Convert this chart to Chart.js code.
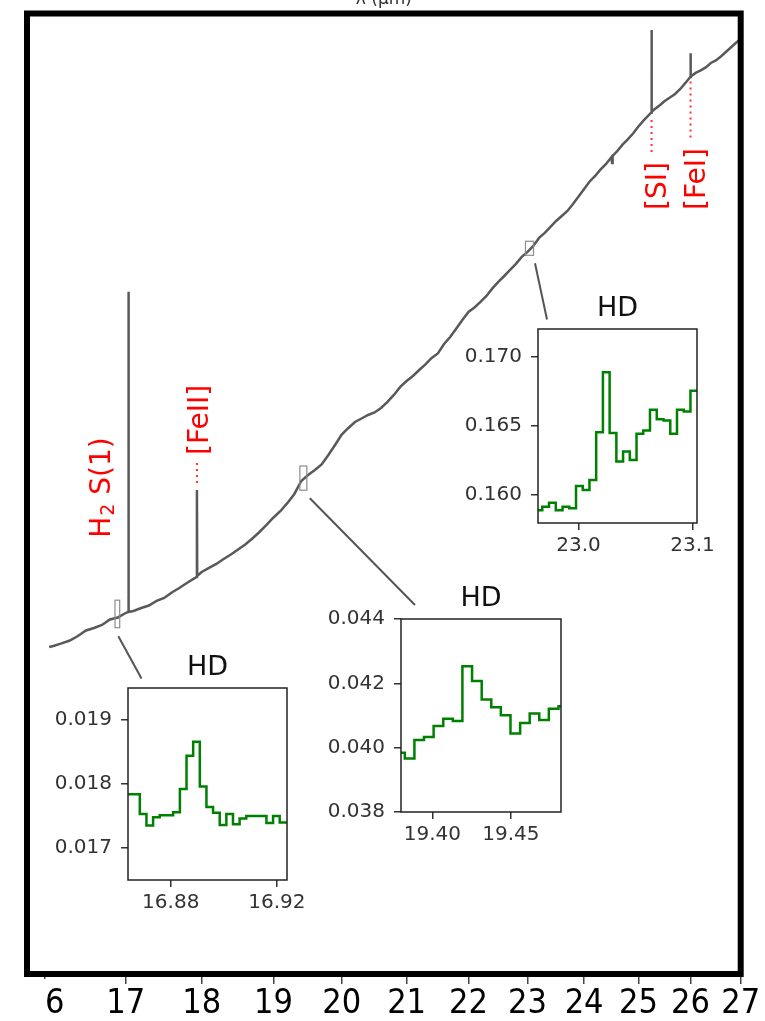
<!DOCTYPE html>
<html lang="en">
<head>
  <meta charset="UTF-8">
  <title>HD</title>
  <script src="https://cdn.jsdelivr.net/npm/chart.js"></script>
  <style>
    body { margin: 0; background: #fff; }
    #wrap { position: relative; width: 765px; height: 1021px; overflow: hidden; }
    #wrap canvas { position: absolute; }
  </style>
</head>
<body>
  <div id="wrap">
    <canvas id="mainChart" width="765" height="1021" style="left:0;top:0"></canvas>
    <canvas id="hd1"></canvas>
    <canvas id="hd2"></canvas>
    <canvas id="hd3"></canvas>
  </div>

<script>
  // full spectrum: wavelength (um) and flux
  const waves = [
    16.05, 16.1, 16.2, 16.3, 16.4, 16.5, 16.6, 16.7, 16.8, 16.9,
    17.0, 17.03, 17.035, 17.04, 17.1, 17.2, 17.3, 17.4, 17.5, 17.6, 17.7, 17.8, 17.9, 17.93, 17.936, 17.94,
    18.0, 18.1, 18.2, 18.3, 18.4, 18.5, 18.6, 18.7, 18.8, 18.9,
    19.0, 19.1, 19.2, 19.3, 19.4, 19.5, 19.6, 19.7, 19.8, 19.9,
    20.0, 20.1, 20.2, 20.3, 20.4, 20.5, 20.6, 20.7, 20.8, 20.9,
    21.0, 21.1, 21.2, 21.3, 21.4, 21.5, 21.6, 21.7, 21.8, 21.9,
    22.0, 22.1, 22.2, 22.3, 22.4, 22.5, 22.6, 22.7, 22.8, 22.9,
    23.0, 23.1, 23.2, 23.3, 23.4, 23.5, 23.6, 23.7, 23.8, 23.9,
    24.0, 24.1, 24.2, 24.3, 24.4, 24.5, 24.51, 24.52, 24.6, 24.7, 24.8, 24.9,
    25.0, 25.1, 25.2, 25.245, 25.249, 25.253, 25.3, 25.4, 25.5, 25.6, 25.7, 25.8, 25.9, 25.995,
    26.0, 26.005, 26.1, 26.2, 26.3, 26.4, 26.5, 26.6, 26.7, 26.8, 26.9, 27.0
  ];
  const flux = [
    0.01468, 0.01477, 0.01500, 0.01527, 0.01569, 0.01623, 0.01647, 0.01678, 0.01735, 0.01756,
    0.01804, 0.01815, 0.1267, 0.01815, 0.01826, 0.01860, 0.01888, 0.01941, 0.01976, 0.02043, 0.02100, 0.02165, 0.02225, 0.02245, 0.03804, 0.02258,
    0.02314, 0.02371, 0.02429, 0.02504, 0.02573, 0.02652, 0.02734, 0.02835, 0.02949, 0.03077,
    0.03220, 0.03350, 0.03517, 0.03714, 0.04018, 0.04167, 0.04296, 0.04441, 0.04705, 0.05000,
    0.05327, 0.05542, 0.05747, 0.05870, 0.05996, 0.06088, 0.06257, 0.06489, 0.06770, 0.07107,
    0.07370, 0.07597, 0.07878, 0.08146, 0.08473, 0.08708, 0.09224, 0.09625, 0.1013, 0.1067,
    0.1120, 0.1151, 0.1191, 0.1234, 0.1292, 0.1344, 0.1393, 0.1445, 0.1499, 0.1564,
    0.1612, 0.1672, 0.1755, 0.1809, 0.1876, 0.1945, 0.2005, 0.2067, 0.2157, 0.2257,
    0.2362, 0.2472, 0.2556, 0.2659, 0.2749, 0.2868, 0.2766, 0.2885, 0.2965, 0.3085, 0.3189, 0.3307,
    0.3451, 0.3579, 0.3700, 0.3757, 0.6196, 0.3768, 0.3826, 0.3920, 0.4028, 0.4114, 0.4203, 0.4332, 0.4493, 0.4659,
    0.5379, 0.4673, 0.4774, 0.4847, 0.4936, 0.5072, 0.5150, 0.5276, 0.5422, 0.5572, 0.5726, 0.5867
  ];
  const xTicks = [16, 17, 18, 19, 20, 21, 22, 23, 24, 25, 26, 27];

  // emission lines marked on the spectrum
  const lineNames = ['H2 S(1)', '[FeII]', '[SI]', '[FeI]'];
  const lineWaves = [17.035, 17.936, 25.249, 26.0];
  const lineLabelAt = [0.02847, 0.04705, 0.208, 0.208];
  const lineDots = [null, [0.04482, 0.03876], [0.3590, 0.2939], [0.4529, 0.3180]];
  const lineDx = [-18.4, 11.5, 14.8, 14.1];

  // HD zooms
  const hd1Waves = [16.8621, 16.8646, 16.8671, 16.8696, 16.8721, 16.8746, 16.8771, 16.8796, 16.8822, 16.8847,
    16.8872, 16.8897, 16.8922, 16.8947, 16.8972, 16.8997, 16.9022, 16.9047, 16.9072, 16.9097,
    16.9122, 16.9148, 16.9173, 16.9198, 16.9223, 16.9248];
  const hd1Flux = [0.01755, 0.01784, 0.01784, 0.01753, 0.01735, 0.01748, 0.01751, 0.01751, 0.01756, 0.01792,
    0.01844, 0.01866, 0.01796, 0.01764, 0.01755, 0.01736, 0.01753, 0.01737, 0.01746, 0.01750,
    0.01750, 0.01750, 0.01739, 0.01750, 0.01740, 0.01740];

  const hd2Waves = [19.3794, 19.3855, 19.3916, 19.3977, 19.4039, 19.4100, 19.4161, 19.4222, 19.4284,
    19.4345, 19.4406, 19.4467, 19.4529, 19.4590, 19.4651, 19.4712, 19.4773, 19.4835];
  const hd2Flux = [0.03984, 0.03966, 0.04024, 0.04033, 0.04067, 0.04090, 0.04083, 0.04253, 0.04207,
    0.04150, 0.04126, 0.04101, 0.04044, 0.04077, 0.04106, 0.04086, 0.04121, 0.04129];

  const hd3Waves = [22.9593, 22.9652, 22.9711, 22.9770, 22.9830, 22.9889, 22.9948, 23.0007, 23.0066, 23.0125,
    23.0184, 23.0243, 23.0302, 23.0361, 23.0420, 23.0479, 23.0538, 23.0597, 23.0656, 23.0716,
    23.0775, 23.0834, 23.0893, 23.0952, 23.1011, 23.1070];
  const hd3Flux = [0.15887, 0.15887, 0.15912, 0.15941, 0.15887, 0.15912, 0.15900, 0.16062, 0.16033, 0.16105,
    0.16452, 0.16885, 0.16445, 0.16239, 0.16311, 0.16251, 0.16440, 0.16464, 0.16614, 0.16546,
    0.16537, 0.16440, 0.16614, 0.16602, 0.16752, 0.16752];

  const insets = [
    { id: 'hd1', waves: hd1Waves, flux: hd1Flux, xRange: [16.8639, 16.9238], yRange: [0.0165, 0.0195],
      xTicks: [16.88, 16.92], yTicks: [0.017, 0.018, 0.019], xDec: 2, yDec: 3,
      frame: [128, 688, 159, 192], link: [1, 8.5, 13.5, -9.5] },
    { id: 'hd2', waves: hd2Waves, flux: hd2Flux, xRange: [19.38, 19.482], yRange: [0.038, 0.044],
      xTicks: [19.40, 19.45], yTicks: [0.038, 0.040, 0.042, 0.044], xDec: 2, yDec: 3,
      frame: [401, 619, 160, 193], link: [6.5, 8, 14, -14] },
    { id: 'hd3', waves: hd3Waves, flux: hd3Flux, xRange: [22.9644, 23.1039], yRange: [0.15794, 0.17199],
      xTicks: [23.0, 23.1], yTicks: [0.160, 0.165, 0.170], xDec: 1, yDec: 3,
      frame: [538, 329, 159, 194], link: [5.5, 8, 9, -9.5] }
  ];

  const sans = "'DejaVu Sans', sans-serif";

  function drawLineName(ctx, name, x, y) {
    ctx.save();
    ctx.translate(x, y);
    ctx.rotate(-Math.PI / 2);
    ctx.fillStyle = '#ff0000';
    ctx.textBaseline = 'alphabetic';
    ctx.textAlign = 'left';
    ctx.font = '28px ' + sans;
    if (name.startsWith('H2')) {
      ctx.fillText('H', 0, 0);
      let w = ctx.measureText('H').width;
      ctx.font = '19px ' + sans;
      ctx.fillText('2', w + 1, 4);
      w += ctx.measureText('2').width + 1;
      ctx.font = '28px ' + sans;
      ctx.fillText(name.slice(2), w, 0);
    } else {
      ctx.fillText(name, 0, 0);
    }
    ctx.restore();
  }

  const overlay = {
    id: 'overlay',
    afterDatasetsDraw(chart) {
      const ctx = chart.ctx;
      const xs = chart.scales.x, ys = chart.scales.y;
      ctx.save();
      // boxes around the zoomed regions and the lines going to each zoom
      insets.forEach(ins => {
        const x0 = xs.getPixelForValue(ins.xRange[0]);
        const x1 = xs.getPixelForValue(ins.xRange[1]);
        const y0 = ys.getPixelForValue(ins.yRange[1]);
        const y1 = ys.getPixelForValue(ins.yRange[0]);
        ctx.strokeStyle = '#8c8c8c';
        ctx.lineWidth = 1.2;
        ctx.strokeRect(x0, y0, x1 - x0, y1 - y0);
        const cx = (x0 + x1) / 2;
        ctx.strokeStyle = '#555';
        ctx.lineWidth = 2;
        ctx.beginPath();
        ctx.moveTo(cx + ins.link[0], y1 + ins.link[1]);
        ctx.lineTo(ins.frame[0] + ins.link[2], ins.frame[1] + ins.link[3]);
        ctx.stroke();
      });
      // line ids
      lineNames.forEach((name, i) => {
        const px = xs.getPixelForValue(lineWaves[i]);
        if (lineDots[i]) {
          ctx.strokeStyle = '#ff3030';
          ctx.lineWidth = 2;
          ctx.setLineDash([2, 4]);
          ctx.beginPath();
          ctx.moveTo(px, ys.getPixelForValue(lineDots[i][0]));
          ctx.lineTo(px, ys.getPixelForValue(lineDots[i][1]));
          ctx.stroke();
          ctx.setLineDash([]);
        }
        drawLineName(ctx, name, px + lineDx[i], ys.getPixelForValue(lineLabelAt[i]));
      });
      ctx.restore();
    },
    afterDraw(chart) {
      const ctx = chart.ctx;
      const a = chart.chartArea;
      ctx.save();
      ctx.strokeStyle = '#000';
      ctx.lineWidth = 6;
      ctx.strokeRect(a.left, a.top, a.right - a.left, a.bottom - a.top);
      // left end of the tick row is cut away
      ctx.fillStyle = '#fff';
      ctx.fillRect(0, 979, 47, 42);
      ctx.fillStyle = '#333';
      ctx.font = '17px ' + sans;
      ctx.textAlign = 'center';
      ctx.textBaseline = 'alphabetic';
      ctx.fillText('λ (μm)', (a.left + a.right) / 2, 4);
      ctx.restore();
    }
  };

  new Chart(document.getElementById('mainChart'), {
    type: 'line',
    data: {
      datasets: [{
        data: waves.map((w, i) => ({ x: w, y: flux[i] })),
        borderColor: '#595959',
        borderWidth: 2.5,
        pointRadius: 0,
        tension: 0,
        fill: false
      }]
    },
    options: {
      responsive: false,
      animation: false,
      events: [],
      layout: { padding: { left: 27, top: 13.5, right: 24.3, bottom: 0 } },
      scales: {
        x: {
          type: 'logarithmic',
          min: 15.784,
          max: 27.0,
          afterBuildTicks: s => { s.ticks = xTicks.map(v => ({ value: v })); },
          afterFit: s => { s.height = 47; },
          ticks: {
            callback: v => String(v),
            autoSkip: false,
            maxRotation: 0,
            minRotation: 0,
            padding: 0,
            color: '#000',
            font: { family: "'DejaVu Sans Condensed', 'DejaVu Sans'", size: 34 }
          },
          grid: { drawOnChartArea: false, tickLength: 10, color: '#444', lineWidth: 1.5 },
          border: { display: false }
        },
        y: {
          type: 'logarithmic',
          min: 0.0020199,
          max: 0.6846,
          display: false
        }
      },
      plugins: { legend: { display: false }, tooltip: { enabled: false } }
    },
    plugins: [overlay]
  });

  const insetFrame = {
    id: 'insetFrame',
    afterDraw(chart) {
      const ctx = chart.ctx;
      const a = chart.chartArea;
      ctx.save();
      ctx.strokeStyle = '#222';
      ctx.lineWidth = 1.5;
      ctx.strokeRect(a.left, a.top, a.right - a.left, a.bottom - a.top);
      ctx.fillStyle = '#111';
      ctx.font = '27px ' + sans;
      ctx.textAlign = 'center';
      ctx.textBaseline = 'alphabetic';
      ctx.fillText('HD', (a.left + a.right) / 2, a.top - 13);
      ctx.restore();
    }
  };

  function plotInset(ins) {
    const yW = 90, topPad = 45, rightPad = 30, xH = 45;
    const canvas = document.getElementById(ins.id);
    canvas.width = yW + ins.frame[2] + rightPad;
    canvas.height = topPad + ins.frame[3] + xH;
    canvas.style.left = (ins.frame[0] - yW) + 'px';
    canvas.style.top = (ins.frame[1] - topPad) + 'px';

    const tickFont = { family: sans, size: 20 };
    new Chart(canvas, {
      type: 'line',
      data: {
        datasets: [{
          data: ins.waves.map((w, i) => ({ x: w, y: ins.flux[i] })),
          stepped: 'middle',
          borderColor: '#008000',
          borderWidth: 2.5,
          pointRadius: 0,
          fill: false
        }]
      },
      options: {
        responsive: false,
        animation: false,
        events: [],
        layout: { padding: { left: 0, top: topPad, right: rightPad, bottom: 0 } },
        scales: {
          x: {
            type: 'linear',
            min: ins.xRange[0],
            max: ins.xRange[1],
            afterBuildTicks: s => { s.ticks = ins.xTicks.map(v => ({ value: v })); },
            afterFit: s => { s.height = xH; },
            ticks: { callback: v => v.toFixed(ins.xDec), padding: 4, color: '#333', font: tickFont, maxRotation: 0, autoSkip: false },
            grid: { drawOnChartArea: false, tickLength: 7, color: '#333', lineWidth: 1.5 },
            border: { display: false }
          },
          y: {
            type: 'linear',
            min: ins.yRange[0],
            max: ins.yRange[1],
            afterBuildTicks: s => { s.ticks = ins.yTicks.map(v => ({ value: v })); },
            afterFit: s => { s.width = yW; },
            ticks: { callback: v => v.toFixed(ins.yDec), padding: 9, color: '#333', font: tickFont, autoSkip: false },
            grid: { drawOnChartArea: false, tickLength: 7, color: '#333', lineWidth: 1.5 },
            border: { display: false }
          }
        },
        plugins: { legend: { display: false }, tooltip: { enabled: false } }
      },
      plugins: [insetFrame]
    });
  }

  insets.forEach(plotInset);
</script>
</body>
</html>
